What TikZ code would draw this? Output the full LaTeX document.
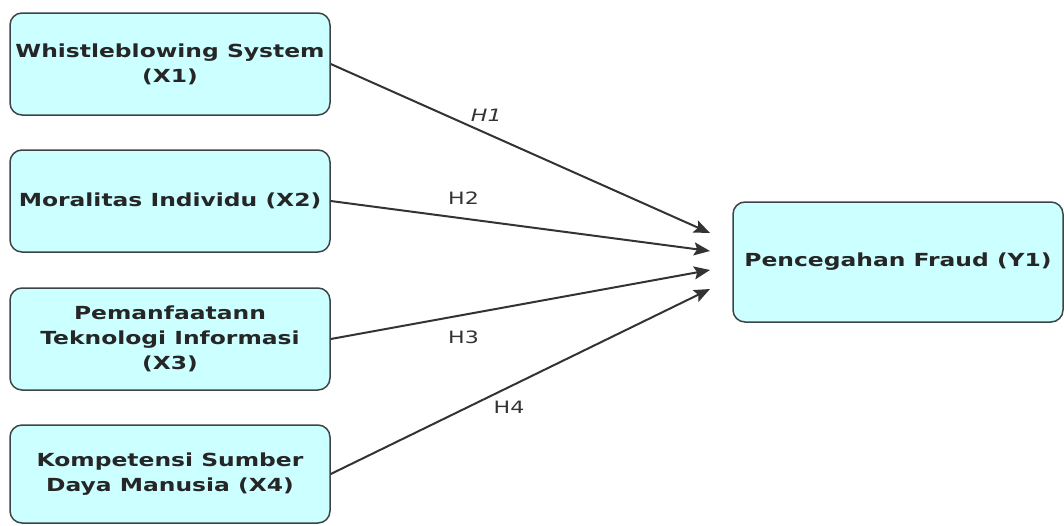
\documentclass[tikz,border=0pt]{standalone}
\usepackage{fontspec}
\setmainfont{DejaVu Sans}
\newfontfamily\widefont[FakeStretch=1.3]{DejaVu Sans}
\usetikzlibrary{arrows.meta}
\definecolor{boxfill}{HTML}{CCFFFF}
\definecolor{boxline}{HTML}{3C4446}
\tikzset{
    var/.style={rectangle, rounded corners=12pt, draw=boxline, line width=1.5pt, fill=boxfill, minimum width=320pt, minimum height=102pt, align=center, text=black!85, font=\widefont\bfseries\fontsize{18}{25}\selectfont},
    hyp/.style={-{Stealth[length=16pt,width=13pt,inset=3pt]}, draw=black!80, line width=2pt},
    lbl/.style={font=\widefont\fontsize{17}{20}\selectfont, text=black!80}
}
\begin{document}
\begin{tikzpicture}[x=1pt,y=-1pt]
    \useasboundingbox (0,0) rectangle (1064,525);
    % variabel independen
    \node[var] (x1) at (170,64) {Whistleblowing System\\(X1)};
    \node[var] (x2) at (170,201) {Moralitas Individu (X2)};
    \node[var] (x3) at (170,339) {Pemanfaatann\\Teknologi Informasi\\(X3)};
    \node[var, minimum height=98pt] (x4) at (170,474) {Kompetensi Sumber\\Daya Manusia (X4)};
    % variabel dependen
    \node[var, minimum width=330pt, minimum height=120pt] (y1) at (898,262) {Pencegahan Fraud (Y1)};
    \coordinate (t1) at (710,233);
    \coordinate (t2) at (710,251);
    \coordinate (t3) at (710,270);
    \coordinate (t4) at (710,289);
    % hipotesis
    \draw[hyp] (x1.east) -- node[lbl, pos=0.41, yshift=18pt] (h1) {\itshape H1} (t1);
    \draw[hyp] (x2.east) -- node[lbl, pos=0.35, yshift=20pt] (h2) {H2} (t2);
    \draw[hyp] (x3.east) -- node[lbl, pos=0.35, yshift=-22pt] (h3) {H3} (t3);
    \draw[hyp] (x4.east) -- node[lbl, pos=0.47, yshift=-20pt] (h4) {H4} (t4);
\end{tikzpicture}
\end{document}
